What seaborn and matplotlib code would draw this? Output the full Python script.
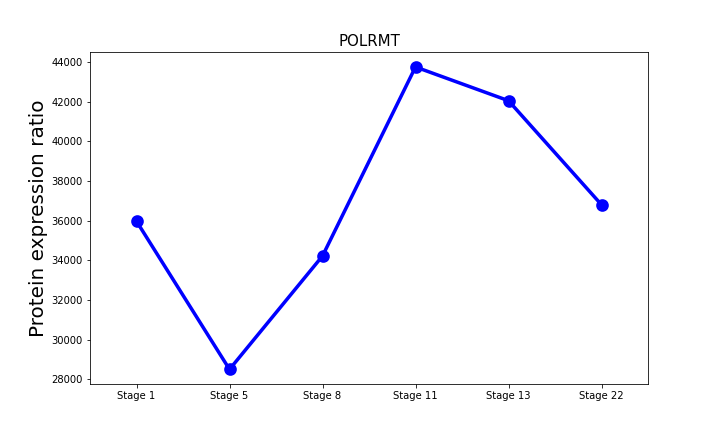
import matplotlib
matplotlib.use("Agg")
import matplotlib.pyplot as plt
import seaborn as sns
import pandas as pd

stages = ["Stage 1", "Stage 5", "Stage 8", "Stage 11", "Stage 13", "Stage 22"]
values = [35970, 28510, 34220, 43740, 42040, 36800]

df = pd.DataFrame({"stage": stages, "value": values})
fig, ax = plt.subplots(figsize=(10, 6), dpi=72)
sns.pointplot(data=df, x="stage", y="value", color="blue", ax=ax,
              markersize=10, linewidth=3.5)
ax.set_title("POLRMT", fontsize=15)
ax.set_xlabel("")
ax.set_ylabel("Protein expression ratio", fontsize=20)
fig.savefig("out.png", dpi=72)
